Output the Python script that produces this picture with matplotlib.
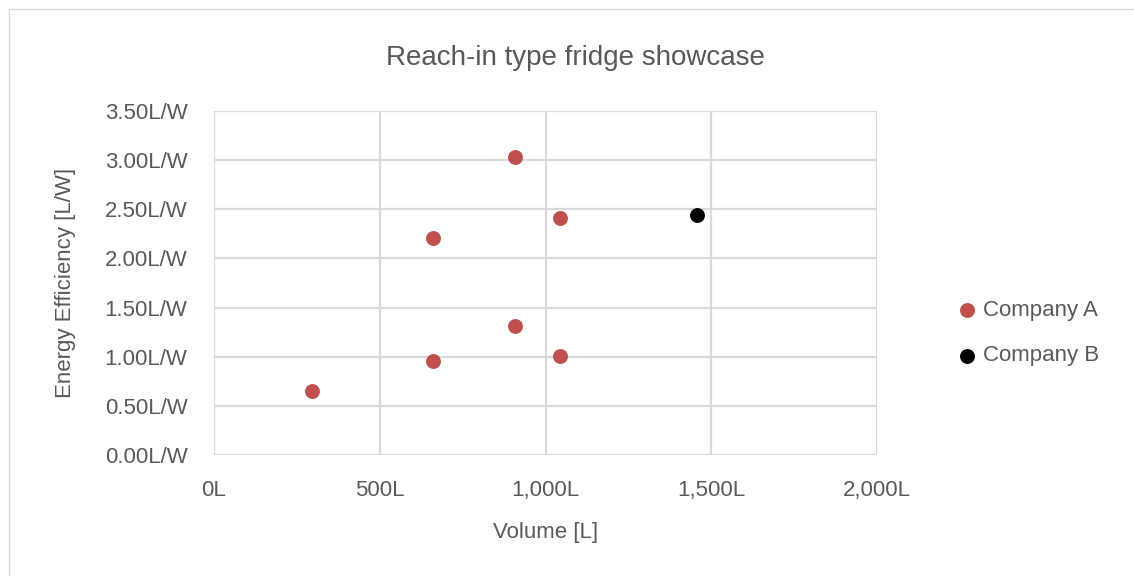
#!/usr/bin/env python3

import matplotlib
matplotlib.use( 'Agg' )
import matplotlib.pyplot as plt
from matplotlib.ticker import FuncFormatter, MultipleLocator

plt.rcParams['font.family'] = [ 'Liberation Sans', 'DejaVu Sans' ]

# data
volA = [ 295, 661, 661, 907, 907, 1043, 1043 ]
effA = [ 0.65, 2.21, 0.96, 3.03, 1.31, 2.41, 1.01 ]
volB = [ 1458 ]
effB = [ 2.44 ]

labA = 'Company A'
labB = 'Company B'

txtCol  = '#595959'
gridCol = '#d9d9d9'
W, H = 1134, 576
fs = 16

fig = plt.figure( figsize = ( W / 100, H / 100 ), dpi = 100 )
ax  = fig.add_axes( [ 214 / W, 1 - 455 / H, 663 / W, 344 / H ] )

ax.scatter( volA, effA, s = 115, color = '#c0504d', label = labA,
            zorder = 3, linewidths = 0 )
ax.scatter( volB, effB, s = 115, color = '#000000', label = labB,
            zorder = 3, linewidths = 0 )

ax.set_xlim( 0, 2000 )
ax.set_ylim( 0, 3.5 )
ax.xaxis.set_major_locator( MultipleLocator( 500 ) )
ax.yaxis.set_major_locator( MultipleLocator( 0.5 ) )
ax.xaxis.set_major_formatter( FuncFormatter( lambda v, p: '{:,.0f}L'.format( v ) ) )
ax.yaxis.set_major_formatter( FuncFormatter( lambda v, p: '{:.2f}L/W'.format( v ) ) )

ax.grid( True, color = gridCol, linewidth = 1.6 )
ax.set_axisbelow( True )
for s in ax.spines.values():
    s.set_visible( False )
ax.tick_params( length = 0, labelsize = fs, labelcolor = txtCol )
ax.tick_params( axis = 'x', pad = 18 )
ax.tick_params( axis = 'y', pad = 19 )

ax.set_xlabel( 'Volume [L]', fontsize = fs, color = txtCol, labelpad = 15 )
ax.set_ylabel( 'Energy Efficiency [L/W]', fontsize = fs, color = txtCol,
               labelpad = 21 )
fig.text( 575 / W, 1 - 58 / H, 'Reach-in type fridge showcase',
          ha = 'center', va = 'center', fontsize = 20, color = txtCol )

leg = fig.legend( loc = 'center left', bbox_to_anchor = ( 956 / W, 1 - 333 / H ),
                  frameon = False, fontsize = fs, handlelength = 1.0,
                  handletextpad = 0.2, borderpad = 0, borderaxespad = 0,
                  labelspacing = 1.12 )
for t in leg.get_texts():
    t.set_color( txtCol )

fig.patches.append( plt.Rectangle( ( 9 / W, -0.1 ), 1.2, 1 - 9 / H + 0.1,
                                   transform = fig.transFigure, fill = False,
                                   edgecolor = gridCol, linewidth = 1 ) )

plt.savefig( 'out.png', dpi = 100 )
plt.close()
